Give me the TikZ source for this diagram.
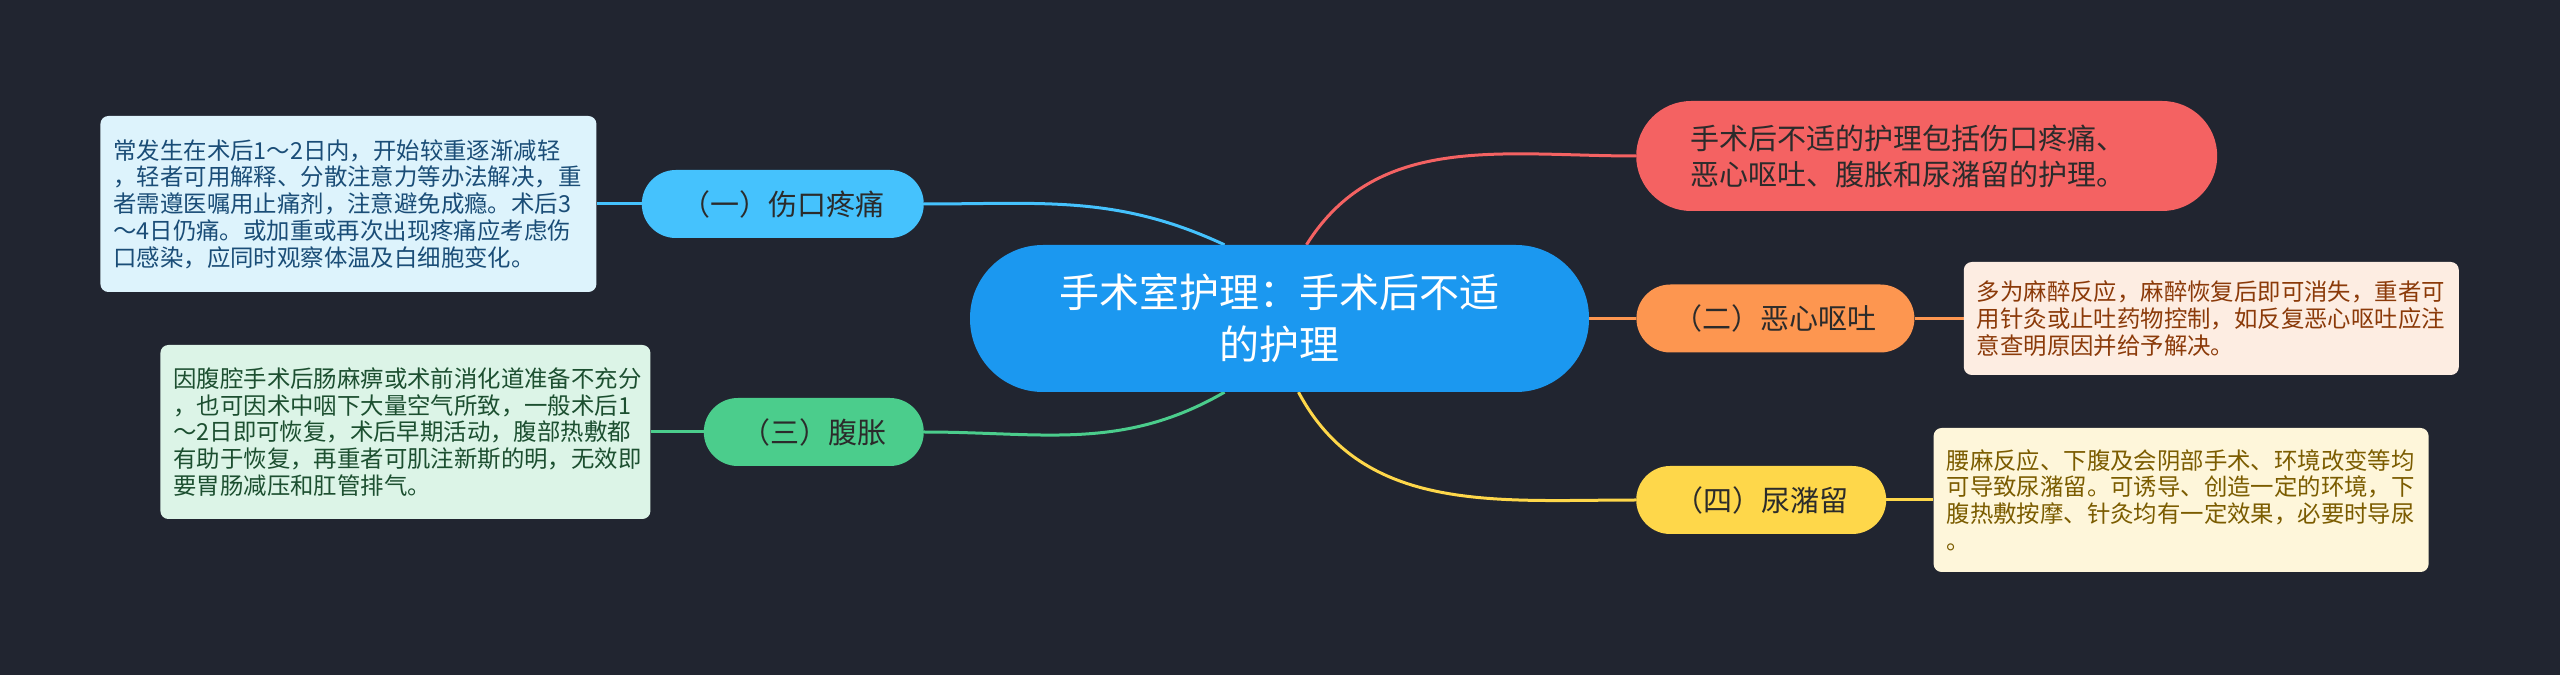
\documentclass[tikz,border=0pt]{standalone}
\usepackage{fontspec}
\setmainfont{Noto Sans CJK SC}
\usepackage{xcolor}
\usetikzlibrary{positioning, backgrounds}

\definecolor{bgdark}{HTML}{212530}
\definecolor{mainblue}{HTML}{1B98F0}
\definecolor{redc}{HTML}{F46262}
\definecolor{orangec}{HTML}{FD9650}
\definecolor{yellowc}{HTML}{FED74A}
\definecolor{bluec}{HTML}{45C2FD}
\definecolor{greenc}{HTML}{4BCD8C}
\definecolor{txtdark}{HTML}{2B2B2B}
\definecolor{bluefill}{HTML}{DDF3FC}
\definecolor{bluetxt}{HTML}{1A4D77}
\definecolor{greenfill}{HTML}{DCF4E7}
\definecolor{greentxt}{HTML}{1C4F30}
\definecolor{orangefill}{HTML}{FDEDE2}
\definecolor{orangetxt}{HTML}{8B3A09}
\definecolor{yellowfill}{HTML}{FEF6DA}
\definecolor{yellowtxt}{HTML}{7B5C00}

\begin{document}
\begin{tikzpicture}[x=1pt,y=1pt,node distance=47pt]
        \tikzstyle{pill}=[rounded corners=34pt,minimum height=68pt,inner xsep=0pt,text=txtdark,font=\fontsize{29}{36}\selectfont]
        \tikzstyle{leaf}=[rounded corners=8pt,inner xsep=13pt,inner ysep=0pt,align=left,font=\fontsize{23.4}{26.7}\selectfont]
        \tikzstyle{link}=[line width=3pt]

        \useasboundingbox (0,0) rectangle (2560,675);

        \node[pill,fill=mainblue,minimum width=619pt,minimum height=147pt,rounded corners=73pt,text=white,align=center,font=\fontsize{40}{52}\selectfont] (A) at (1279.5,356.5) {手术室护理：手术后不适\\的护理};
        \node[pill,fill=redc,anchor=west,minimum width=581pt,minimum height=110pt,rounded corners=55pt,inner xsep=54pt,text width=473pt,align=left,text=txtdark] (B) at (1636,519) {手术后不适的护理包括伤口疼痛、\\恶心呕吐、腹胀和尿潴留的护理。};
        \node[pill,fill=orangec,minimum width=278pt] (C) [right=47pt of A] {（二）恶心呕吐};
        \node[pill,fill=yellowc,anchor=west,minimum width=250pt] (D) at (1636,175) {（四）尿潴留};
        \node[pill,fill=bluec,anchor=east,minimum width=282pt] (E) at (924,471) {（一）伤口疼痛};
        \node[pill,fill=greenc,anchor=east,minimum width=220pt] (F) at (924,243) {（三）腹胀};

        \node[leaf,fill=orangefill,text=orangetxt,text width=469pt,minimum height=113pt] (C2) [right=49pt of C] {多为麻醉反应，麻醉恢复后即可消失，重者可\\用针灸或止吐药物控制，如反复恶心呕吐应注\\意查明原因并给予解决。};
        \node[leaf,fill=yellowfill,text=yellowtxt,text width=469pt,minimum height=144pt] (D2) [right=47pt of D] {腰麻反应、下腹及会阴部手术、环境改变等均\\可导致尿潴留。可诱导、创造一定的环境，下\\腹热敷按摩、针灸均有一定效果，必要时导尿\\。};
        \node[leaf,fill=bluefill,text=bluetxt,text width=470pt,minimum height=176pt] (E2) [left=45pt of E] {常发生在术后1～2日内，开始较重逐渐减轻\\，轻者可用解释、分散注意力等办法解决，重\\者需遵医嘱用止痛剂，注意避免成瘾。术后3\\～4日仍痛。或加重或再次出现疼痛应考虑伤\\口感染，应同时观察体温及白细胞变化。};
        \node[leaf,fill=greenfill,text=greentxt,text width=464pt,minimum height=174pt] (F2) [left=53pt of F] {因腹腔手术后肠麻痹或术前消化道准备不充分\\，也可因术中咽下大量空气所致，一般术后1\\～2日即可恢复，术后早期活动，腹部热敷都\\有助于恢复，再重者可肌注新斯的明，无效即\\要胃肠减压和肛管排气。};

        \begin{scope}[on background layer]
            \fill[bgdark] (0,0) rectangle (2560,675);
            \path ([xshift=27pt]A.north) edge[link, draw=redc, out=58, in=180] (B)
                  (A) edge[link, draw=orangec] (C)
                  ([xshift=19pt]A.south) edge[link, draw=yellowc, out=-62, in=180] (D)
                  ([xshift=-55pt]A.north) edge[link, draw=bluec, out=155, in=0] (E)
                  ([xshift=-55pt]A.south) edge[link, draw=greenc, out=-150, in=0] (F)
                  (C) edge[link, draw=orangec] (C2)
                  (D) edge[link, draw=yellowc] (D2)
                  (E) edge[link, draw=bluec] (E2)
                  (F) edge[link, draw=greenc] (F2);
        \end{scope}
    \end{tikzpicture}
\end{document}
